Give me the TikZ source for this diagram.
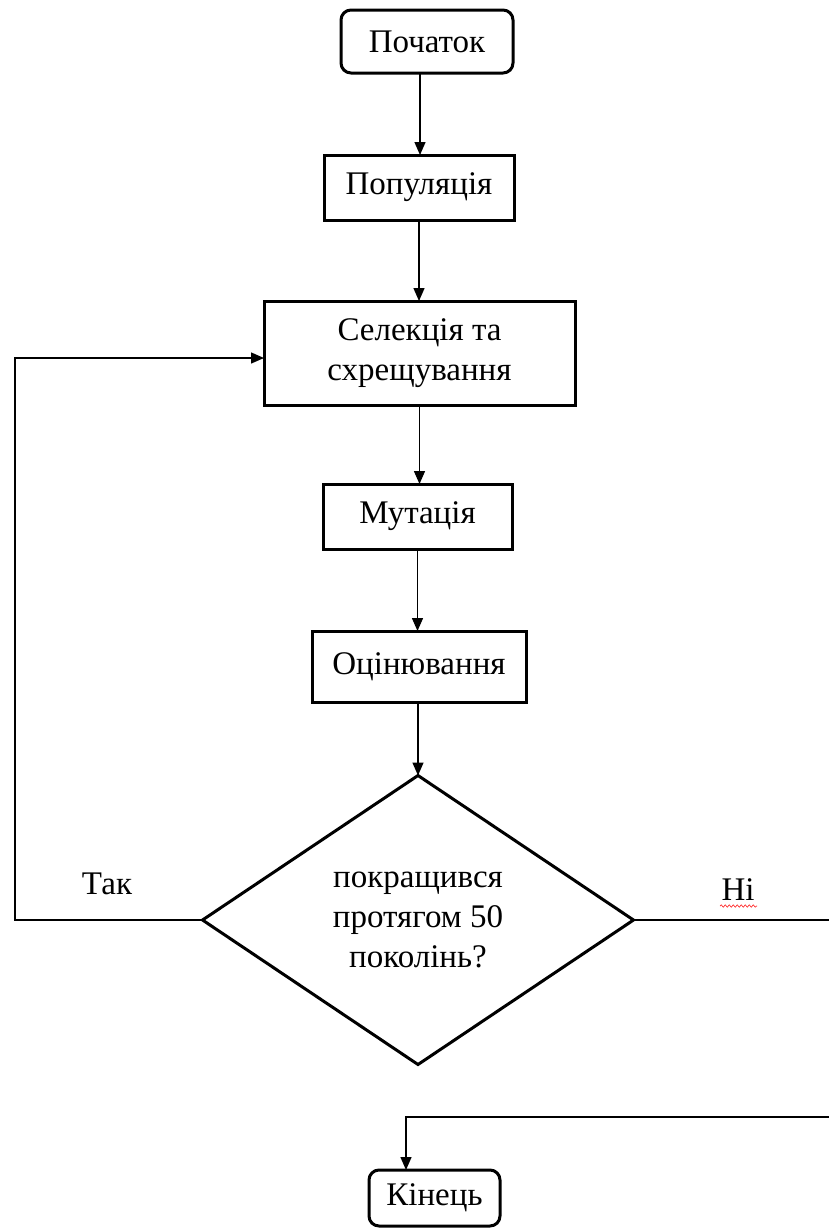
\documentclass[tikz,border=0pt]{standalone}
\usepackage{fontspec}
\setmainfont{Liberation Serif}
\usetikzlibrary{arrows.meta,shapes.geometric,decorations.pathmorphing}
\begin{document}
\begin{tikzpicture}[x=1pt,y=-1pt,
  font=\fontsize{33}{40}\selectfont,
  box/.style={draw, line width=3pt, inner sep=0pt, outer sep=0pt, align=center},
  term/.style={box, rounded corners=10pt},
  arr/.style={line width=1.4pt, -{Triangle[length=13pt,width=11pt]}},
  ln/.style={line width=1.4pt},
  lbl/.style={inner sep=0pt}]
\useasboundingbox (0,0) rectangle (829,1229);
\node[term, minimum width=172pt, minimum height=63pt] (start) at (427,41.5) {Початок};
\node[box, minimum width=190pt, minimum height=65pt] (pop) at (419,187.5) {Популяція};
\node[box, minimum width=311pt, minimum height=104pt] (sel) at (419.5,353) {Селекція та\\схрещування};
\node[box, minimum width=189pt, minimum height=65pt] (mut) at (417.5,516.5) {Мутація};
\node[box, minimum width=214pt, minimum height=71pt] (eval) at (419,666.5) {Оцінювання};
\node[box, diamond, minimum width=431pt, minimum height=289pt] (dec) at (418,920) {покращився\\протягом 50\\поколінь?};
\node[term, minimum width=131pt, minimum height=56pt] (end) at (434.5,1198) {Кінець};
\node[lbl] (yes) at (107,884) {Так};
\node[lbl] (no) at (738,890) {Ні};
\coordinate (wavA) at (720,906);
\coordinate (wavB) at (757,906);
\draw[red!80, line width=0.7pt, decorate, decoration={snake, amplitude=1.2pt, segment length=4pt}] (wavA) -- (wavB);
\coordinate (lft) at (15,920);
\coordinate (rt) at (829,920);
\coordinate (rt2) at (829,1117);
\coordinate (endin) at ([xshift=-28.5pt]end.north);
\coordinate (sout) at ([xshift=-7pt]start.south);
\draw[arr] (sout) -- (sout |- pop.north);
\draw[arr] (pop.south) -- (pop.south |- sel.north);
\draw[arr] (sel.south) -- (sel.south |- mut.north);
\draw[arr] (mut.south) -- (mut.south |- eval.north);
\draw[arr] (eval.south -| dec.north) -- (dec.north);
\draw[arr] (dec.west) -- (lft) |- ([yshift=-5pt]sel.west);
\draw[ln] (dec.east) -- (rt);
\draw[arr] (rt2) -| (endin);
\end{tikzpicture}
\end{document}
